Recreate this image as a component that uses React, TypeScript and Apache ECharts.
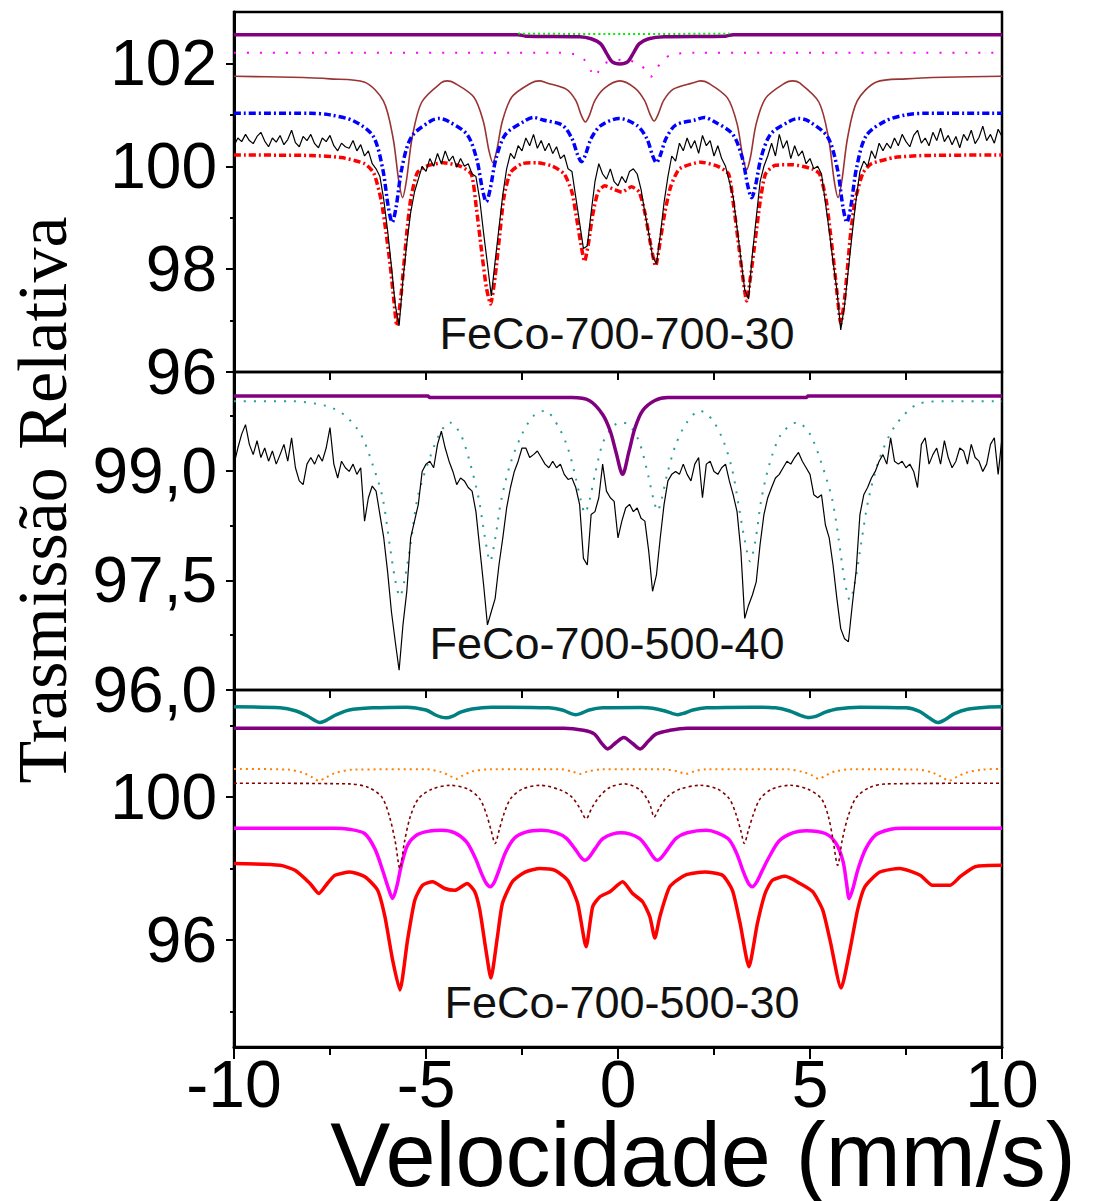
import React, { useEffect, useRef } from 'react';
import * as echarts from 'echarts';

// ---------- shared ----------
const VELOCITY_MIN = -10;
const VELOCITY_STEP = 0.1;
const X_TICK_VALUES = [-10, -5, 0, 5, 10];

// ---------- Panel 1: FeCo-700-700-30 ----------
const P1_LABEL = 'FeCo-700-700-30';
const P1_Y_TICKS = [96, 98, 100, 102];
const P1_Y_MINOR = [97, 99, 101];
const p1Experimental = [
  100.40, 100.55, 100.48, 100.62, 100.50, 100.44, 100.58, 100.66, 100.49, 100.38,
  100.55, 100.47, 100.60, 100.42, 100.52, 100.70, 100.46, 100.38, 100.58, 100.50,
  100.62, 100.44, 100.36, 100.55, 100.48, 100.60, 100.40, 100.30, 100.45, 100.38,
  100.35, 100.50, 100.30, 100.42, 100.20, 100.30, 100.05, 99.95, 99.80, 99.35,
  98.75, 98.05, 97.30, 96.90, 97.80, 98.50, 99.10, 99.50, 99.75, 100.00,
  99.90, 100.15, 100.00, 100.25, 100.05, 100.30, 100.10, 100.20, 99.98, 100.15,
  100.00, 100.05, 99.85, 99.80, 99.35, 98.70, 98.10, 97.48, 98.15, 98.80,
  99.45, 99.95, 100.25, 100.15, 100.40, 100.30, 100.55, 100.40, 100.62, 100.35,
  100.50, 100.30, 100.45, 100.25, 100.38, 100.15, 100.22, 99.95, 99.90, 99.40,
  98.90, 98.40, 98.45, 99.10, 99.70, 100.05, 99.85, 99.75, 99.95, 99.70,
  99.62, 99.80, 99.68, 99.90, 99.95, 99.85, 99.55, 99.10, 98.70, 98.25,
  98.10, 98.65, 99.30, 99.80, 100.20, 100.10, 100.45, 100.30, 100.55, 100.35,
  100.50, 100.25, 100.60, 100.40, 100.50, 100.20, 100.40, 100.15, 100.00, 99.70,
  99.40, 98.80, 98.20, 97.60, 97.42, 98.30, 99.00, 99.70, 100.00, 100.20,
  100.45, 100.20, 100.62, 100.35, 100.50, 100.15, 100.40, 100.20, 100.30, 100.05,
  100.15, 99.95, 100.00, 99.85, 99.30, 98.75, 98.15, 97.60, 96.82, 97.30,
  98.00, 98.70, 99.35, 99.90, 100.10, 100.00, 100.30, 100.15, 100.45, 100.30,
  100.45, 100.35, 100.55, 100.40, 100.62, 100.48, 100.38, 100.60, 100.70, 100.45,
  100.55, 100.40, 100.66, 100.50, 100.74, 100.48, 100.60, 100.42, 100.58, 100.36,
  100.62, 100.50, 100.70, 100.44, 100.56, 100.78, 100.50, 100.62, 100.45, 100.72,
  100.58,
];
const p1Total: [number, number][] = [
  [-10, 100.22], [-8, 100.21], [-7.2, 100.17], [-6.6, 100.05], [-6.36, 99.87], [-6.17, 99.35],
  [-6.04, 98.71], [-5.93, 98.06], [-5.84, 97.42], [-5.76, 96.9], [-5.66, 97.42], [-5.58, 98.06],
  [-5.5, 98.71], [-5.4, 99.35], [-5.23, 99.87], [-5.0, 100.0], [-4.55, 100.07],
  [-4.1, 100.0], [-3.82, 99.85], [-3.69, 99.2], [-3.56, 98.4], [-3.43, 97.65], [-3.32, 97.32],
  [-3.2, 97.85], [-3.09, 98.6], [-2.97, 99.4], [-2.8, 99.88], [-2.5, 100.05], [-2.1, 100.07],
  [-1.7, 100.0], [-1.4, 99.85], [-1.2, 99.5], [-1.08, 99.0], [-0.97, 98.5], [-0.87, 98.15],
  [-0.77, 98.5], [-0.66, 99.05], [-0.52, 99.5], [-0.35, 99.62], [-0.1, 99.55], [0.1, 99.5],
  [0.35, 99.6], [0.55, 99.5], [0.7, 99.1], [0.82, 98.6], [0.98, 98.06], [1.1, 98.55],
  [1.22, 99.1], [1.37, 99.6], [1.6, 99.95], [2.15, 100.08], [2.6, 100.0], [2.88, 99.85],
  [3.0, 99.3], [3.12, 98.6], [3.24, 97.9], [3.35, 97.38], [3.46, 97.9], [3.58, 98.6],
  [3.7, 99.3], [3.84, 99.85], [4.1, 100.02], [4.55, 100.03], [5.05, 99.95], [5.25, 99.85],
  [5.42, 99.35], [5.53, 98.71], [5.63, 98.06], [5.72, 97.42], [5.8, 96.94], [5.9, 97.42],
  [5.98, 98.06], [6.06, 98.71], [6.18, 99.35], [6.38, 99.87], [6.6, 100.05], [7.2, 100.17],
  [8, 100.21], [10, 100.22],
];
const p1Blue: [number, number][] = [
  [-10, 101.03], [-8, 101.03], [-7.5, 101.0], [-6.88, 100.88], [-6.38, 100.59], [-6.13, 99.96],
  [-5.98, 99.2], [-5.88, 98.91], [-5.78, 99.2], [-5.63, 99.96], [-5.38, 100.57], [-4.88, 100.88],
  [-4.65, 100.93], [-4.43, 100.88], [-3.93, 100.62], [-3.68, 100.14], [-3.53, 99.55],
  [-3.43, 99.31], [-3.33, 99.55], [-3.18, 100.14], [-2.93, 100.62], [-2.43, 100.88],
  [-2.2, 100.95], [-1.95, 100.9], [-1.45, 100.8], [-1.2, 100.54], [-1.05, 100.22],
  [-0.95, 100.09], [-0.85, 100.22], [-0.7, 100.54], [-0.45, 100.79], [0.03, 100.93],
  [0.5, 100.79], [0.75, 100.54], [0.9, 100.21], [1.0, 100.07], [1.1, 100.21], [1.25, 100.54],
  [1.5, 100.8], [2.0, 100.9], [2.25, 100.95], [2.48, 100.88], [2.98, 100.63], [3.23, 100.18],
  [3.38, 99.62], [3.48, 99.39], [3.58, 99.62], [3.73, 100.18], [3.98, 100.63], [4.48, 100.88],
  [4.7, 100.93], [4.96, 100.88], [5.46, 100.57], [5.71, 99.96], [5.86, 99.2], [5.96, 98.91],
  [6.06, 99.2], [6.21, 99.96], [6.46, 100.59], [6.96, 100.88], [7.5, 101.0], [8, 101.03],
  [10, 101.03],
];
const p1Brown: [number, number][] = [
  [-10, 101.75], [-8.5, 101.73], [-7.5, 101.7], [-6.61, 101.64], [-6.11, 101.27], [-5.86, 100.56],
  [-5.71, 99.72], [-5.61, 99.39], [-5.51, 99.72], [-5.36, 100.56], [-5.11, 101.25],
  [-4.61, 101.62], [-4.45, 101.66], [-4.26, 101.62], [-3.76, 101.35], [-3.51, 100.88],
  [-3.36, 100.3], [-3.26, 100.07], [-3.16, 100.3], [-3.01, 100.88], [-2.76, 101.35],
  [-2.26, 101.62], [-2.05, 101.66], [-1.85, 101.62], [-1.35, 101.5], [-1.1, 101.28],
  [-0.95, 100.98], [-0.85, 100.86], [-0.75, 100.98], [-0.6, 101.28], [-0.35, 101.52],
  [0.05, 101.66], [0.44, 101.52], [0.69, 101.28], [0.84, 101.0], [0.94, 100.88], [1.04, 101.0],
  [1.19, 101.28], [1.44, 101.5], [1.94, 101.62], [2.15, 101.66], [2.35, 101.62], [2.85, 101.33],
  [3.1, 100.83], [3.25, 100.18], [3.35, 99.93], [3.45, 100.18], [3.6, 100.83], [3.85, 101.33],
  [4.35, 101.62], [4.55, 101.66], [4.73, 101.62], [5.23, 101.25], [5.48, 100.56], [5.63, 99.72],
  [5.73, 99.39], [5.83, 99.72], [5.98, 100.56], [6.23, 101.27], [6.73, 101.64], [7.5, 101.7],
  [8.5, 101.73], [10, 101.75],
];
const p1Magenta: [number, number][] = [
  [-10, 102.21], [-1.5, 102.21], [-1.1, 102.17], [-0.85, 102.05], [-0.7, 101.85], [-0.6, 101.74],
  [-0.5, 101.85], [-0.35, 102.0], [0.1, 102.07], [0.55, 102.0], [0.72, 101.86], [0.85, 101.74],
  [0.98, 101.86], [1.15, 102.05], [1.4, 102.17], [2, 102.21], [10, 102.21],
];
const p1Purple: [number, number][] = [
  [-10, 102.56], [-2.6, 102.56], [-2.4, 102.53], [-1.0, 102.52], [-0.7, 102.48], [-0.45, 102.38],
  [-0.3, 102.2], [-0.15, 102.03], [0.05, 101.99], [0.25, 102.03], [0.4, 102.2], [0.55, 102.38],
  [0.8, 102.48], [1.2, 102.52], [2.8, 102.53], [3.0, 102.56], [10, 102.56],
];
const p1Green: [number, number][] = [[-2.6, 102.58], [0.1, 102.57], [2.9, 102.58]];

// ---------- Panel 2: FeCo-700-500-40 ----------
const P2_LABEL = 'FeCo-700-500-40';
const P2_Y_TICKS = [96, 97.5, 99];
const P2_Y_MINOR = [96.75, 98.25, 99.75];
const p2Experimental = [
  99.09, 99.31, 99.50, 99.63, 99.36, 99.22, 99.41, 99.18, 99.31, 99.13,
  99.27, 99.09, 99.22, 99.36, 99.13, 99.45, 99.04, 98.86, 98.81, 99.09,
  99.18, 99.09, 99.22, 99.13, 99.31, 99.59, 99.09, 98.90, 99.13, 99.04,
  98.99, 99.09, 98.95, 99.04, 98.31, 98.63, 98.79, 98.72, 98.40, 98.08,
  97.62, 97.07, 96.66, 96.27, 96.89, 97.35, 98.08, 98.31, 98.54, 98.99,
  99.09, 99.13, 99.04, 99.36, 99.54, 99.31, 99.13, 98.99, 98.81, 98.90,
  98.86, 98.77, 98.72, 98.44, 97.94, 97.44, 96.89, 97.07, 97.25, 97.71,
  98.08, 98.49, 98.77, 98.99, 99.13, 99.31, 99.31, 99.18, 99.22, 99.27,
  99.18, 99.09, 99.04, 99.13, 99.04, 99.09, 98.95, 98.88, 98.90, 98.77,
  98.54, 97.80, 97.71, 98.40, 98.44, 98.63, 99.09, 98.72, 98.63, 98.58,
  98.08, 98.31, 98.49, 98.54, 98.44, 98.49, 98.35, 98.31, 97.90, 97.35,
  97.57, 98.08, 98.54, 98.86, 98.95, 98.99, 98.95, 99.09, 98.95, 98.86,
  99.09, 99.18, 98.63, 99.09, 99.13, 98.99, 98.95, 99.04, 99.09, 98.86,
  98.67, 98.44, 97.90, 96.98, 97.16, 97.30, 97.48, 97.99, 98.40, 98.63,
  98.77, 98.90, 98.95, 99.04, 99.13, 99.09, 99.18, 99.25, 99.13, 99.04,
  98.95, 98.67, 98.63, 98.67, 98.26, 98.08, 97.71, 97.25, 96.84, 96.70,
  96.66, 97.16, 97.62, 98.40, 98.67, 98.77, 98.90, 98.99, 99.13, 99.22,
  99.09, 99.45, 99.13, 99.09, 99.13, 99.04, 99.09, 98.99, 98.77, 99.36,
  99.45, 99.09, 99.22, 99.31, 99.09, 99.41, 99.18, 99.04, 99.13, 99.31,
  99.27, 99.09, 99.36, 99.18, 99.13, 98.99, 99.09, 99.36, 99.45, 98.95,
  99.45,
];
const p2Teal: [number, number][] = [
  [-10, 99.95], [-8.5, 99.95], [-7.56, 99.88], [-7.1, 99.75], [-6.7, 99.5], [-6.4, 99.1],
  [-6.13, 98.63], [-5.95, 98.0], [-5.8, 97.5], [-5.68, 97.28], [-5.56, 97.5], [-5.4, 98.0],
  [-5.22, 98.63], [-4.95, 99.1], [-4.65, 99.5], [-4.38, 99.66], [-4.1, 99.5], [-3.85, 99.1],
  [-3.62, 98.6], [-3.47, 98.1], [-3.33, 97.76], [-3.19, 98.1], [-3.04, 98.6], [-2.8, 99.1],
  [-2.5, 99.5], [-2.2, 99.75], [-1.9, 99.82], [-1.55, 99.6], [-1.3, 99.3], [-1.1, 98.9],
  [-0.97, 98.6], [-0.86, 98.42], [-0.74, 98.6], [-0.6, 98.95], [-0.38, 99.4], [-0.1, 99.62],
  [0.1, 99.66], [0.3, 99.62], [0.55, 99.4], [0.78, 98.95], [0.92, 98.62], [1.03, 98.45],
  [1.14, 98.62], [1.28, 98.95], [1.5, 99.35], [1.78, 99.65], [2.13, 99.82], [2.45, 99.7],
  [2.75, 99.4], [2.98, 99.0], [3.15, 98.5], [3.3, 98.05], [3.44, 97.76], [3.58, 98.05],
  [3.73, 98.6], [3.95, 99.1], [4.25, 99.5], [4.67, 99.66], [5.0, 99.5], [5.3, 99.1],
  [5.58, 98.6], [5.75, 98.05], [5.9, 97.5], [6.04, 97.23], [6.18, 97.5], [6.33, 98.0],
  [6.52, 98.6], [6.8, 99.15], [7.2, 99.6], [7.8, 99.91], [8.5, 99.95], [10, 99.95],
];
const p2Purple: [number, number][] = [
  [-10, 100.02], [-4.95, 100.02], [-4.9, 100.0], [-1.2, 100.0], [-0.75, 99.96], [-0.4, 99.77],
  [-0.2, 99.54], [-0.05, 99.25], [0.12, 98.95], [0.28, 99.25], [0.44, 99.58], [0.64, 99.82],
  [0.96, 99.96], [1.3, 100.0], [4.9, 100.0], [4.95, 100.02], [10, 100.02],
];

// ---------- Panel 3: FeCo-700-500-30 ----------
const P3_LABEL = 'FeCo-700-500-30';
const P3_Y_TICKS = [96, 100];
const P3_Y_MINOR = [94, 98, 102];
const p3Teal: [number, number][] = [
  [-10, 102.53], [-8.8, 102.5], [-8.4, 102.42], [-8.1, 102.28], [-7.9, 102.15], [-7.76, 102.09],
  [-7.6, 102.15], [-7.35, 102.3], [-7.0, 102.44], [-6.4, 102.5], [-5.5, 102.52], [-5.0, 102.44],
  [-4.75, 102.3], [-4.6, 102.24], [-4.47, 102.22], [-4.3, 102.27], [-4.1, 102.38],
  [-3.8, 102.47], [-3.3, 102.52], [-1.8, 102.5], [-1.45, 102.44], [-1.25, 102.35],
  [-1.1, 102.31], [-0.95, 102.35], [-0.75, 102.44], [-0.4, 102.5], [0.6, 102.51], [0.9, 102.49],
  [1.2, 102.42], [1.42, 102.34], [1.56, 102.31], [1.72, 102.35], [1.95, 102.44], [2.3, 102.5],
  [3.5, 102.52], [4.1, 102.5], [4.45, 102.42], [4.75, 102.29], [4.98, 102.23], [5.15, 102.26],
  [5.4, 102.38], [5.7, 102.47], [6.3, 102.52], [7.5, 102.5], [7.85, 102.4], [8.1, 102.22],
  [8.33, 102.09], [8.5, 102.16], [8.75, 102.33], [9.1, 102.46], [9.6, 102.52], [10, 102.53],
];
const p3Purple: [number, number][] = [
  [-10, 101.93], [-1.4, 101.93], [-0.9, 101.87], [-0.62, 101.77], [-0.42, 101.5], [-0.27, 101.35],
  [-0.05, 101.53], [0.15, 101.67], [0.38, 101.5], [0.58, 101.35], [0.8, 101.58], [1.0, 101.77],
  [1.35, 101.87], [1.8, 101.93], [10, 101.93],
];
const p3Orange: [number, number][] = [
  [-10, 100.79], [-8.6, 100.77], [-8.2, 100.68], [-7.95, 100.55], [-7.79, 100.46], [-7.6, 100.55],
  [-7.35, 100.68], [-6.9, 100.77], [-5.0, 100.78], [-4.6, 100.7], [-4.38, 100.6], [-4.22, 100.51],
  [-4.05, 100.6], [-3.8, 100.72], [-3.3, 100.78], [-1.5, 100.78], [-1.2, 100.72], [-0.99, 100.65],
  [-0.78, 100.72], [-0.4, 100.78], [1.2, 100.78], [1.55, 100.72], [1.77, 100.65], [1.98, 100.72],
  [2.3, 100.78], [4.4, 100.78], [4.83, 100.7], [5.07, 100.6], [5.23, 100.51], [5.4, 100.6],
  [5.65, 100.72], [6.1, 100.78], [7.8, 100.77], [8.2, 100.68], [8.45, 100.55], [8.62, 100.46],
  [8.8, 100.55], [9.05, 100.68], [9.5, 100.77], [10, 100.79],
];
const p3Brown: [number, number][] = [
  [-10, 100.39], [-7.0, 100.37], [-6.5, 100.27], [-6.15, 100.0], [-5.95, 99.45], [-5.8, 98.75],
  [-5.68, 98.0], [-5.56, 98.75], [-5.41, 99.45], [-5.2, 99.95], [-4.85, 100.22], [-4.37, 100.33],
  [-3.9, 100.22], [-3.6, 99.95], [-3.42, 99.5], [-3.3, 99.05], [-3.2, 98.7], [-3.1, 99.05],
  [-2.98, 99.5], [-2.8, 99.95], [-2.5, 100.22], [-2.03, 100.33], [-1.5, 100.2], [-1.2, 100.0],
  [-1.0, 99.7], [-0.83, 99.39], [-0.68, 99.7], [-0.48, 100.02], [-0.2, 100.28], [0.18, 100.37],
  [0.55, 100.22], [0.76, 99.95], [0.86, 99.7], [0.94, 99.44], [1.08, 99.7], [1.28, 100.0],
  [1.6, 100.22], [2.14, 100.33], [2.6, 100.22], [2.9, 99.95], [3.08, 99.5], [3.2, 99.05],
  [3.29, 98.7], [3.39, 99.05], [3.52, 99.5], [3.7, 99.95], [4.0, 100.22], [4.48, 100.33],
  [4.95, 100.22], [5.3, 99.95], [5.48, 99.45], [5.6, 98.8], [5.72, 98.09], [5.84, 98.8],
  [5.99, 99.45], [6.2, 99.98], [6.55, 100.27], [7.0, 100.37], [10, 100.39],
];
const p3Magenta: [number, number][] = [
  [-10, 99.13], [-7.4, 99.13], [-7.0, 99.1], [-6.6, 98.98], [-6.33, 98.55], [-6.13, 97.95],
  [-5.98, 97.45], [-5.87, 97.16], [-5.76, 97.5], [-5.65, 98.05], [-5.48, 98.65], [-5.22, 98.95],
  [-4.9, 99.05], [-4.6, 99.07], [-4.25, 99.0], [-3.95, 98.75], [-3.72, 98.3], [-3.55, 97.85],
  [-3.44, 97.6], [-3.33, 97.49], [-3.22, 97.62], [-3.1, 97.95], [-2.93, 98.45], [-2.7, 98.85],
  [-2.4, 99.02], [-2.0, 99.07], [-1.6, 99.0], [-1.35, 98.85], [-1.12, 98.55], [-0.97, 98.32],
  [-0.86, 98.23], [-0.75, 98.32], [-0.6, 98.55], [-0.38, 98.85], [0.08, 99.0], [0.55, 98.85],
  [0.78, 98.55], [0.92, 98.32], [1.03, 98.23], [1.14, 98.32], [1.3, 98.55], [1.52, 98.85],
  [1.8, 99.0], [2.3, 99.07], [2.85, 98.85], [3.08, 98.45], [3.25, 97.95], [3.39, 97.6],
  [3.5, 97.49], [3.61, 97.62], [3.76, 97.95], [3.95, 98.35], [4.2, 98.78], [4.55, 99.0],
  [4.9, 99.06], [5.4, 98.98], [5.68, 98.7], [5.86, 98.2], [5.95, 97.6], [6.02, 97.16],
  [6.12, 97.45], [6.25, 97.98], [6.45, 98.55], [6.72, 98.95], [7.1, 99.1], [7.4, 99.13],
  [10, 99.13],
];
const p3Total: [number, number][] = [
  [-10, 98.14], [-8.8, 98.09], [-8.41, 97.95], [-8.02, 97.58], [-7.79, 97.3], [-7.57, 97.58],
  [-7.37, 97.81], [-6.98, 97.9], [-6.59, 97.77], [-6.26, 97.39], [-6.07, 96.65], [-5.87, 95.44],
  [-5.68, 94.6], [-5.48, 96.0], [-5.29, 97.12], [-5.09, 97.53], [-4.83, 97.63], [-4.51, 97.44],
  [-4.25, 97.39], [-3.93, 97.58], [-3.73, 97.35], [-3.6, 96.84], [-3.44, 95.72], [-3.31, 94.93],
  [-3.14, 96.09], [-3.01, 97.02], [-2.75, 97.63], [-2.42, 97.9], [-2.03, 98.0], [-1.64, 97.95],
  [-1.31, 97.67], [-1.05, 97.02], [-0.83, 95.81], [-0.66, 96.93], [-0.47, 97.21], [-0.21, 97.35],
  [0.12, 97.63], [0.38, 97.3], [0.64, 97.07], [0.83, 96.65], [0.96, 96.05], [1.09, 96.65],
  [1.35, 97.49], [1.74, 97.81], [2.27, 97.9], [2.72, 97.81], [2.98, 97.39], [3.18, 96.46],
  [3.41, 95.25], [3.63, 96.46], [3.83, 97.3], [4.02, 97.67], [4.35, 97.78], [4.74, 97.58],
  [5.07, 97.35], [5.33, 96.84], [5.52, 96.0], [5.81, 94.65], [6.04, 95.72], [6.24, 96.84],
  [6.43, 97.49], [6.82, 97.9], [7.34, 98.0], [7.87, 97.81], [8.19, 97.53], [8.65, 97.53],
  [8.91, 97.77], [9.3, 98.05], [10, 98.09],
];

const X_TITLE = 'Velocidade (mm/s)';
const Y_TITLE = 'Trasmissão Relativa';

const SANS = 'Liberation Sans, Arial, sans-serif';
const SERIF = 'Liberation Serif, Times New Roman, serif';

const gridLeft = 234;
const gridRight = 1107 - 1002;

function toXY(values: number[]): [number, number][] {
  return values.map((y, i) => [+(VELOCITY_MIN + i * VELOCITY_STEP).toFixed(2), y]);
}

function buildOption() {
  const grids = [
    { left: gridLeft, right: gridRight, top: 12, height: 360 },
    { left: gridLeft, right: gridRight, top: 372, height: 318 },
    { left: gridLeft, right: gridRight, top: 690, height: 357 },
  ].map((g) => ({
    ...g,
    show: true,
    borderColor: '#000',
    borderWidth: 2.5,
    backgroundColor: 'transparent',
    containLabel: false,
    outerBoundsMode: 'none',
  }));

  const xHidden = (gridIndex: number) => ({
    type: 'value', gridIndex, min: -10, max: 10, interval: 5,
    axisLine: { show: false, onZero: false }, axisTick: { show: false }, axisLabel: { show: false },
    splitLine: { show: false },
  });
  const xTop = (gridIndex: number) => ({
    type: 'value', gridIndex, position: 'top', min: -10, max: 10, interval: 2.5,
    axisLine: { show: false, onZero: false },
    axisTick: { show: true, inside: true, length: 8, lineStyle: { color: '#000', width: 2 } },
    axisLabel: { show: false }, splitLine: { show: false },
  });
  const xBottom = {
    type: 'value', gridIndex: 2, min: -10, max: 10, interval: 5,
    axisLine: { show: true, onZero: false, lineStyle: { color: '#000', width: 3 } },
    axisTick: { show: true, length: 12, customValues: X_TICK_VALUES, lineStyle: { color: '#000', width: 2 } },
    minorTick: { show: true, splitNumber: 2, length: 8, lineStyle: { color: '#000', width: 2 } },
    axisLabel: {
      show: true, fontSize: 66, lineHeight: 50, margin: 12, color: '#000', fontFamily: SANS,
      customValues: X_TICK_VALUES,
    },
    splitLine: { show: false }, minorSplitLine: { show: false },
  };

  const yMain = (gridIndex: number, min: number, max: number, ticks: number[], fmt?: (v: number) => string) => ({
    type: 'value', gridIndex, min, max, position: 'left',
    axisLine: { show: true, onZero: false, lineStyle: { color: '#000', width: 3 } },
    axisTick: { show: true, customValues: ticks, length: 8, lineStyle: { color: '#000', width: 2 } },
    axisLabel: {
      show: true, customValues: ticks, margin: 17, fontSize: 64, lineHeight: 56, color: '#000', fontFamily: SANS,
      formatter: fmt ? (v: number) => fmt(v) : (v: number) => String(v),
    },
    splitLine: { show: false },
  });
  const yMinor = (gridIndex: number, min: number, max: number, ticks: number[]) => ({
    type: 'value', gridIndex, min, max, position: 'left', offset: 0,
    axisLine: { show: false, onZero: false },
    axisTick: { show: true, customValues: ticks, length: 4, lineStyle: { color: '#000', width: 2 } },
    axisLabel: { show: false }, splitLine: { show: false },
  });

  const comma = (v: number) => v.toFixed(1).replace('.', ',');

  const line = (
    name: string, data: [number, number][], xAxisIndex: number, yAxisIndex: number,
    color: string, width: number, type: any = 'solid', smooth: number | boolean = 0.3,
  ) => ({
    name, type: 'line', data, xAxisIndex, yAxisIndex, showSymbol: false, symbol: 'none',
    smooth, lineStyle: { color, width, type, cap: 'butt' }, silent: true,
  });

  const series = [
    // panel 1
    line('p1Brown', p1Brown, 0, 0, '#9a3434', 1.6),
    line('p1Blue', p1Blue, 0, 0, '#0000ff', 3.5, [7, 3, 2, 3]),
    line('p1Total', p1Total, 0, 0, '#ff0000', 3.5, [7, 3, 2, 3], 0.2),
    line('p1Experimental', toXY(p1Experimental), 0, 0, '#000000', 1.2, 'solid', false),
    line('p1Magenta', p1Magenta, 0, 0, '#ff00ff', 2, [2, 11]),
    line('p1Purple', p1Purple, 0, 0, '#800080', 3.5),
    line('p1Green', p1Green, 0, 0, '#00ee00', 2, [2, 3]),
    // panel 2
    line('p2Teal', p2Teal, 1, 2, '#2a9d9d', 2, [2, 8]),
    line('p2Experimental', toXY(p2Experimental), 1, 2, '#000000', 1.2, 'solid', false),
    line('p2Purple', p2Purple, 1, 2, '#800080', 3.5),
    // panel 3
    line('p3Teal', p3Teal, 2, 4, '#008080', 3.5),
    line('p3Purple', p3Purple, 2, 4, '#800080', 3.5),
    line('p3Orange', p3Orange, 2, 4, '#ff8000', 2, [2, 4]),
    line('p3Magenta', p3Magenta, 2, 4, '#ff00ff', 3.5),
    line('p3Brown', p3Brown, 2, 4, '#800000', 1.6, [3, 3]),
    line('p3Total', p3Total, 2, 4, '#ff0000', 3.5, 'solid', 0.2),
  ];

  const sampleText = (text: string, x: number, y: number) => ({
    type: 'text', x, y, silent: true,
    style: { text, fontSize: 45, fontFamily: SANS, fill: '#111', align: 'center', verticalAlign: 'middle' },
  });

  return {
    animation: false,
    backgroundColor: '#ffffff',
    textStyle: { fontFamily: SANS },
    grid: grids,
    xAxis: [xHidden(0), xHidden(1), xBottom, xTop(1), xTop(2)],
    yAxis: [
      yMain(0, 96, 103, P1_Y_TICKS),
      yMinor(0, 96, 103, P1_Y_MINOR),
      yMain(1, 96, 100.35, P2_Y_TICKS, comma),
      yMinor(1, 96, 100.35, P2_Y_MINOR),
      yMain(2, 93, 103, P3_Y_TICKS),
      yMinor(2, 93, 103, P3_Y_MINOR),
    ],
    series,
    graphic: [
      sampleText(P1_LABEL, 617, 333),
      sampleText(P2_LABEL, 607, 643),
      sampleText(P3_LABEL, 622, 1002),
      {
        type: 'text', x: 703, y: 1155, silent: true,
        style: {
          text: X_TITLE, fontSize: 90, lineHeight: 76, fontFamily: SANS, fill: '#000',
          align: 'center', verticalAlign: 'middle',
        },
      },
      {
        type: 'text', x: 42, y: 500, rotation: Math.PI / 2, silent: true,
        style: { text: Y_TITLE, fontSize: 70, fontFamily: SERIF, fill: '#000', align: 'center', verticalAlign: 'middle' },
      },
    ],
  };
}

export default function App() {
  const ref = useRef<HTMLDivElement>(null);
  useEffect(() => {
    if (!ref.current) return;
    const chart = echarts.init(ref.current, undefined, { renderer: 'svg' });
    chart.setOption(buildOption() as any);
    return () => chart.dispose();
  }, []);
  return (
    <div
      ref={ref}
      style={{ position: 'absolute', left: 0, top: 0, width: 1107, height: 1201, background: '#fff' }}
    />
  );
}
